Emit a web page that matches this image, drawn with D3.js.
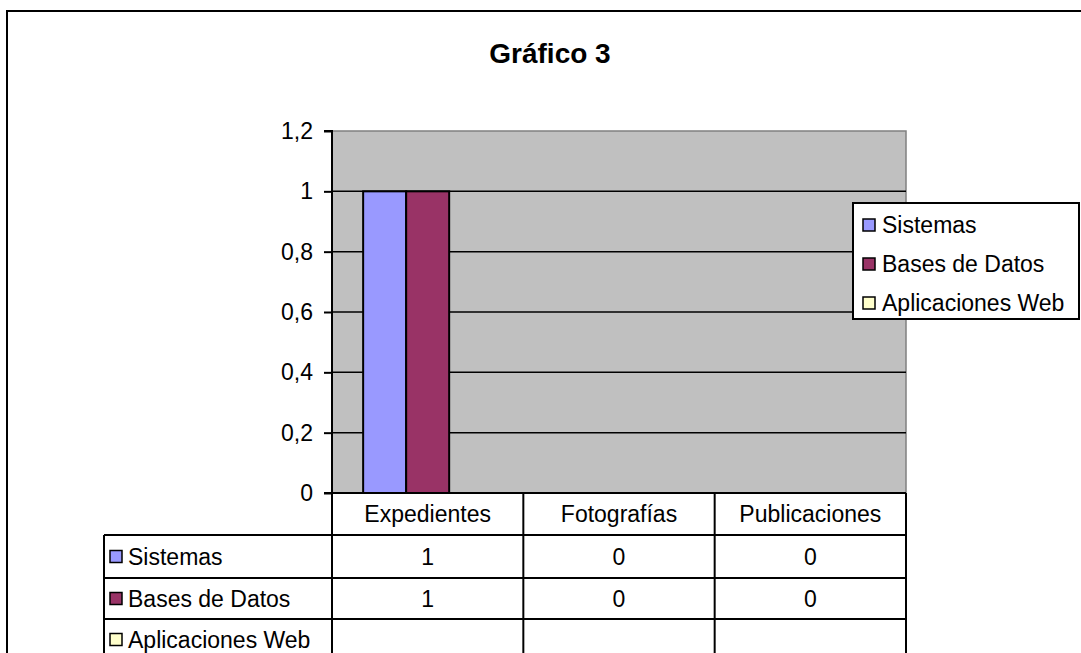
<!DOCTYPE html>
<html><head><meta charset="utf-8">
<script src="https://cdn.jsdelivr.net/npm/d3@7"></script>
<style>body{margin:0;background:#fff}svg{display:block}text{font-family:"Liberation Sans",Arial,sans-serif;fill:#000}</style>
</head><body>
<svg id="c" width="1081" height="653"></svg>
<script>
const title = "Gráfico 3";
const categories = ["Expedientes", "Fotografías", "Publicaciones"];
const seriesNames = ["Sistemas", "Bases de Datos", "Aplicaciones Web"];
const sistemas = [1, 0, 0];
const basesDeDatos = [1, 0, 0];
const aplicacionesWeb = [null, null, null];
const seriesColors = ["#9999FF", "#993366", "#FFFFCC"];
const yTicks = [0, 0.2, 0.4, 0.6, 0.8, 1, 1.2];
const yTickLabels = ["0", "0,2", "0,4", "0,6", "0,8", "1", "1,2"];

const seriesValues = [sistemas, basesDeDatos, aplicacionesWeb];
const svg = d3.select("#c");
const FS = 23;
const plot = {l: 332, r: 906, t: 131, b: 493};
const rowH = [42, 43, 41, 41];
const tableLeft = 104;

// outer border
svg.append("path").attr("d", "M7,660 V11 H1090").attr("fill", "none").attr("stroke", "#000").attr("stroke-width", 2);

svg.append("text").attr("x", 550).attr("y", 63).attr("text-anchor", "middle")
  .attr("font-size", 28).attr("font-weight", "bold").text(title);

const x0 = d3.scaleBand().domain(categories).range([plot.l, plot.r]);
const x1 = d3.scaleBand().domain(seriesNames).range([0, x0.bandwidth()]).paddingInner(0).paddingOuter(0.724);
const y = d3.scaleLinear().domain([0, 1.2]).range([plot.b, plot.t]);

// plot area
svg.append("rect").attr("x", plot.l).attr("y", plot.t).attr("width", plot.r - plot.l).attr("height", plot.b - plot.t)
  .attr("fill", "#C0C0C0").attr("stroke", "#808080").attr("stroke-width", 1.5);

// gridlines
svg.append("g").selectAll("line").data(yTicks.filter(d => d > 0 && d < 1.2)).join("line")
  .attr("x1", plot.l).attr("x2", plot.r).attr("y1", d => y(d)).attr("y2", d => y(d))
  .attr("stroke", "#000").attr("stroke-width", 1.5);

// bars
seriesValues.forEach((vals, si) => {
  svg.append("g").selectAll("rect").data(categories.map((c, i) => ({c, v: vals[i]})).filter(d => d.v != null && d.v > 0))
    .join("rect")
    .attr("x", d => x0(d.c) + x1(seriesNames[si]))
    .attr("y", d => y(d.v))
    .attr("width", x1.bandwidth())
    .attr("height", d => y(0) - y(d.v))
    .attr("fill", seriesColors[si]).attr("stroke", "#000").attr("stroke-width", 2);
});

// y axis
const yAxis = d3.axisLeft(y).tickValues(yTicks).tickFormat((d, i) => yTickLabels[i]).tickSize(8).tickPadding(11);
const ga = svg.append("g").attr("transform", `translate(${plot.l},0)`).call(yAxis);
ga.select(".domain").attr("stroke", "#000").attr("stroke-width", 2).attr("d", `M-8,${plot.t}H0V${plot.b}H-8`);
ga.selectAll(".tick line").attr("stroke", "#000").attr("stroke-width", 2);
ga.selectAll(".tick text").attr("font-size", FS).attr("font-family", "Liberation Sans, Arial, sans-serif").attr("fill", "#000");

// data table
const tbl = svg.append("g");
const rowTop = [plot.b];
rowH.forEach(h => rowTop.push(rowTop[rowTop.length - 1] + h));
// horizontal lines
tbl.append("line").attr("x1", plot.l).attr("x2", plot.r).attr("y1", plot.b).attr("y2", plot.b).attr("stroke", "#000").attr("stroke-width", 2);
[1, 2, 3].forEach(i => tbl.append("line").attr("x1", tableLeft).attr("x2", plot.r)
  .attr("y1", rowTop[i]).attr("y2", rowTop[i]).attr("stroke", "#000").attr("stroke-width", 2));
// vertical lines
const vx = [plot.l, ...categories.map(c => x0(c) + x0.bandwidth())];
vx.forEach(v => tbl.append("line").attr("x1", v).attr("x2", v).attr("y1", plot.b).attr("y2", 660).attr("stroke", "#000").attr("stroke-width", 2));
tbl.append("line").attr("x1", tableLeft).attr("x2", tableLeft).attr("y1", rowTop[1]).attr("y2", 660).attr("stroke", "#000").attr("stroke-width", 2);

// header
tbl.selectAll("text.hdr").data(categories).join("text").attr("class", "hdr")
  .attr("x", d => x0(d) + x0.bandwidth() / 2).attr("y", (rowTop[0] + rowTop[1]) / 2).attr("dy", "0.35em")
  .attr("text-anchor", "middle").attr("font-size", FS).text(d => d);
// rows
seriesNames.forEach((s, si) => {
  const cy = (rowTop[si + 1] + rowTop[si + 2]) / 2;
  tbl.append("rect").attr("x", tableLeft + 6).attr("y", cy - 6).attr("width", 12).attr("height", 12)
    .attr("fill", seriesColors[si]).attr("stroke", "#000").attr("stroke-width", 1.5);
  tbl.append("text").attr("x", tableLeft + 24).attr("y", cy).attr("dy", "0.35em").attr("font-size", FS).text(s);
  tbl.selectAll(null).data(categories.map((c, i) => ({c, v: seriesValues[si][i]})).filter(d => d.v != null)).join("text")
    .attr("x", d => x0(d.c) + x0.bandwidth() / 2).attr("y", cy).attr("dy", "0.35em")
    .attr("text-anchor", "middle").attr("font-size", FS).text(d => d.v);
});

// legend
const lg = svg.append("g");
lg.append("rect").attr("x", 853).attr("y", 203).attr("width", 226).attr("height", 116)
  .attr("fill", "#fff").attr("stroke", "#000").attr("stroke-width", 2);
seriesNames.forEach((s, i) => {
  const cy = 225 + i * 39;
  lg.append("rect").attr("x", 863).attr("y", cy - 6).attr("width", 12).attr("height", 12)
    .attr("fill", seriesColors[i]).attr("stroke", "#000").attr("stroke-width", 1.5);
  lg.append("text").attr("x", 882).attr("y", cy).attr("dy", "0.35em").attr("font-size", FS).text(s);
});
</script>
</body></html>
